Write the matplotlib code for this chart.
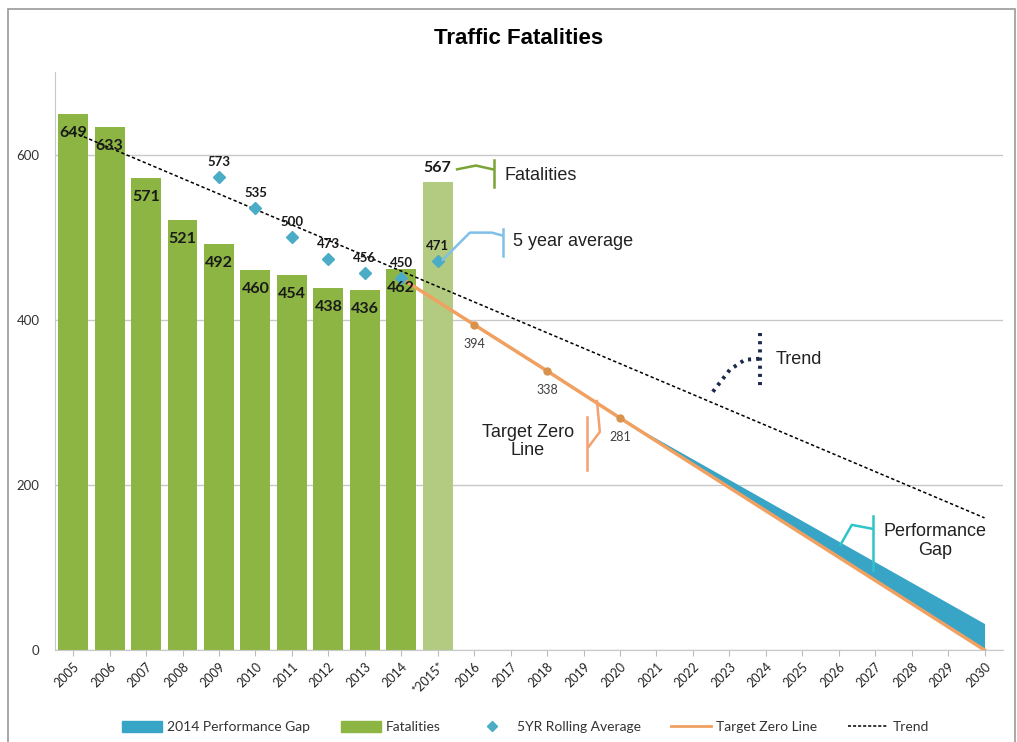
import matplotlib
matplotlib.use("Agg")
import matplotlib.pyplot as plt
from matplotlib.lines import Line2D
from matplotlib.patches import Patch, Rectangle

# categories on the x axis
years = ["2005", "2006", "2007", "2008", "2009", "2010", "2011", "2012", "2013", "2014",
         "*2015*", "2016", "2017", "2018", "2019", "2020", "2021", "2022", "2023", "2024",
         "2025", "2026", "2027", "2028", "2029", "2030"]

# fatalities bars
fatal_years = ["2005", "2006", "2007", "2008", "2009", "2010", "2011", "2012", "2013", "2014"]
fatalities = [649, 633, 571, 521, 492, 460, 454, 438, 436, 462]
prelim_year = "*2015*"
prelim_fatalities = 567

# 5 year rolling average
avg_years = ["2009", "2010", "2011", "2012", "2013", "2014", "*2015*"]
rolling_avg = [573, 535, 500, 473, 456, 450, 471]

# target zero line
target_years = ["2014", "2016", "2018", "2020", "2030"]
target_vals = [450, 394, 338, 281, 0]
target_marked = ["2016", "2018", "2020"]

# performance gap band (upper edge vs target)
gap_years = ["2020", "2030"]
gap_upper = [281, 32]
gap_lower = [281, 0]

# trend line end points
trend_years = ["2005", "2030"]
trend_vals = [627, 160]

GREEN = "#8db543"
GREEN_LIGHT = "#b3cb80"
BLUE = "#4bacc6"
ORANGE = "#f0a060"
ORANGE_DARK = "#d8924c"
GAP = "#38a4c6"

plt.rcParams["font.family"] = ["Lato", "DejaVu Sans"]


def pos(labels):
    return [years.index(y) for y in labels]


fig = plt.figure(figsize=(10.17, 7.42), dpi=100)
ax = fig.add_axes([0.054, 0.124, 0.932, 0.779])

fig.patches.append(Rectangle((0.008, -0.01), 0.99, 0.998, transform=fig.transFigure,
                             fill=False, edgecolor="#9a9a9a", lw=1.2))

# bars
bx = pos(fatal_years)
ax.bar(bx, fatalities, width=0.82, color=GREEN, zorder=2)
px = years.index(prelim_year)
ax.bar(px, prelim_fatalities, width=0.82, color=GREEN_LIGHT, zorder=2)
for x, v in zip(bx, fatalities):
    ax.annotate(str(v), (x, v), xytext=(0, -19), textcoords="offset pixels",
                ha="center", va="center", fontsize=11.5, fontweight="bold", color="#1a1a1a", zorder=6)
ax.annotate(str(prelim_fatalities), (px, prelim_fatalities), xytext=(0, 14), textcoords="offset pixels",
            ha="center", va="center", fontsize=11.5, fontweight="bold", color="#1a1a1a", zorder=6)

# performance gap
gx = pos(gap_years)
ax.fill_between(gx, gap_lower, gap_upper, color=GAP, lw=0, zorder=3)

# target zero line
tx = pos(target_years)
ax.plot(tx, target_vals, color=ORANGE, lw=2.5, zorder=4)
mx = pos(target_marked)
mv = [target_vals[target_years.index(y)] for y in target_marked]
ax.plot(mx, mv, "o", color=ORANGE_DARK, ms=5, zorder=5)
for x, v in zip(mx, mv):
    ax.annotate(str(v), (x, v), xytext=(0, -19), textcoords="offset pixels",
                ha="center", va="center", fontsize=9, color="#404040", zorder=6)

# trend
ax.plot(pos(trend_years), trend_vals, color="black", lw=1.1, ls=(0, (2.2, 1.6)), zorder=4)

# rolling average
ax_ = pos(avg_years)
ax.plot(ax_, rolling_avg, "D", color=BLUE, ms=6, zorder=5)
for x, v in zip(ax_, rolling_avg):
    ax.annotate(str(v), (x, v), xytext=(0, 15), textcoords="offset pixels",
                ha="center", va="center", fontsize=9.5, fontweight="bold", color="#1a1a1a", zorder=6)


# callouts (pixel positions converted to data coords)
def dx(p):
    return (p - 55) / 36.46 - 0.5


def dy(p):
    return (650 - p) / 165 * 200


def callout(pts, bar, color, lw=1.8, ls="-"):
    ax.plot([dx(a) for a, b in pts], [dy(b) for a, b in pts], color=color, lw=lw, ls=ls,
            zorder=6, solid_capstyle="butt")
    ax.plot([dx(bar[0]), dx(bar[0])], [dy(bar[1]), dy(bar[2])], color=color, lw=lw, ls=ls, zorder=6)


ann_font = ["Liberation Sans", "DejaVu Sans"]
callout([(456, 170), (476, 166), (494, 170)], (494, 160, 187), "#7aa436")
ax.text(dx(505), dy(176), "Fatalities", fontsize=13, family=ann_font, va="center", color="#222222")

callout([(442, 261), (470, 233), (492, 233), (503, 236)], (503, 229, 256), "#7fc0e8")
ax.text(dx(513), dy(242), "5 year average", fontsize=13, family=ann_font, va="center", color="#222222")

callout([(713, 392), (730, 370), (745, 360), (760, 359)], (760, 333, 388), "#1c2a4a",
        lw=2.8, ls=(0, (0.8, 1.3)))
ax.text(dx(776), dy(360), "Trend", fontsize=13, family=ann_font, va="center", color="#222222")

callout([(597, 400), (600, 432), (588, 448)], (587, 417, 470), "#f4a070")
ax.text(dx(528), dy(442), "Target Zero\nLine", fontsize=13, family=ann_font, ha="center", va="center",
        color="#222222", linespacing=1.1)

callout([(840, 546), (852, 525), (873, 529)], (873, 516, 570), "#2ec4c8")
ax.text(dx(935), dy(541), "Performance\nGap", fontsize=13, family=ann_font, ha="center", va="center",
        color="#222222", linespacing=1.1)

# axes styling
ax.set_xlim(-0.5, len(years) - 0.5)
ax.set_ylim(0, 700)
ax.set_yticks([0, 200, 400, 600])
ax.yaxis.grid(True, color="#c8c8c8", lw=1, zorder=0)
ax.set_axisbelow(True)
ax.tick_params(axis="y", length=0, labelsize=9.5, labelcolor="#333333", pad=11)
ax.set_xticks(range(len(years)))
ax.set_xticklabels(years, rotation=45, ha="right", rotation_mode="anchor", fontsize=9, color="#222222")
ax.tick_params(axis="x", length=4, color="#bbbbbb")
for s in ["top", "right"]:
    ax.spines[s].set_visible(False)
ax.spines["left"].set_color("#c8c8c8")
ax.spines["bottom"].set_color("#c8c8c8")

fig.text(0.51, 0.948, "Traffic Fatalities", ha="center", va="center", fontsize=16, fontweight="bold",
         family=["Liberation Sans", "DejaVu Sans"])

handles = [
    Patch(color=GAP),
    Patch(color=GREEN),
    Line2D([], [], marker="D", color=BLUE, ls="none", ms=5),
    Line2D([], [], color=ORANGE, lw=2),
    Line2D([], [], color="black", lw=1.1, ls=(0, (2, 1.3))),
]
labels = ["2014 Performance Gap", "Fatalities", "5YR Rolling Average", "Target Zero Line", "Trend"]
fig.legend(handles, labels, loc="center", bbox_to_anchor=(0.517, 0.02), ncol=5, frameon=False,
           fontsize=10, handlelength=2.9, handleheight=0.8, handletextpad=0.35, columnspacing=2.2,
           labelcolor="#333333")

fig.savefig("out.png", dpi=100)
